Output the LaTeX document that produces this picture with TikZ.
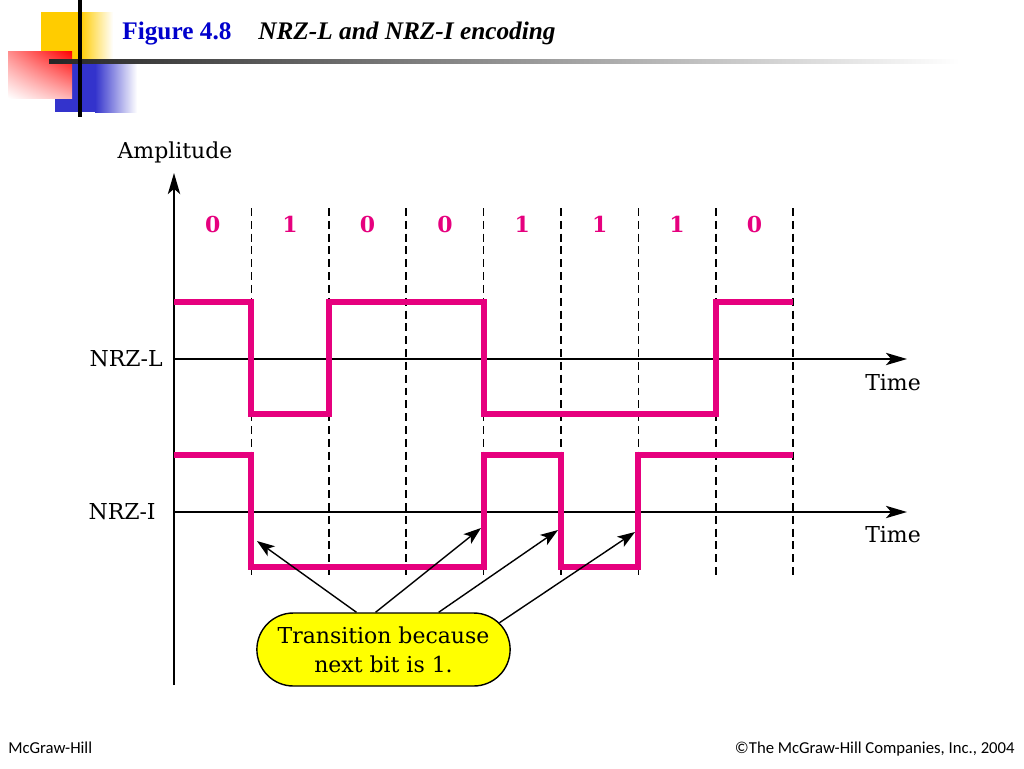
\documentclass[tikz,border=0pt]{standalone}
\usepackage{fontspec}
\setmainfont{DejaVu Serif}
\newfontfamily\titlefont{Liberation Serif}
\newfontfamily\footfont{Carlito}
\definecolor{nrzpink}{RGB}{230, 0, 126}
\definecolor{titleblue}{RGB}{0, 0, 204}
\definecolor{decoyellow}{RGB}{255, 204, 0}
\definecolor{decoblue}{RGB}{51, 51, 204}
\definecolor{noteyellow}{RGB}{255, 255, 0}
\usetikzlibrary{arrows.meta,shapes.misc,shadings}

\begin{document}
\begin{tikzpicture}[x=0.02cm, y=-0.02cm,
    signal/.style={nrzpink, line width=3.4pt},
    axis/.style={line width=1.1pt, -{Stealth[length=12pt,width=7pt,inset=3pt]}},
    bitline/.style={dash pattern=on 4.5pt off 2.8pt, line width=0.9pt},
    pointer/.style={line width=0.8pt, -{Stealth[length=10pt,width=7pt,inset=2.5pt]}},
    lbl/.style={font=\fontsize{12.5}{15}\selectfont},
    bit/.style={font=\fontsize{12.5}{15}\selectfont\bfseries, text=nrzpink},
    callout/.style={rounded rectangle, draw, line width=0.8pt, fill=noteyellow,
        minimum width=5.3cm, minimum height=1.46cm, align=center,
        font=\fontsize{12.5}{16.5}\selectfont}]
    \useasboundingbox (0,0) rectangle (1024,768);

    % Slide decoration
    \fill[decoyellow] (41,12) rectangle (80,60);
    \shade[left color=decoyellow, right color=white] (80,12) rectangle (113,60);
    \fill[decoblue] (55,63) rectangle (95,112);
    \shade[left color=decoblue, right color=white] (95,63) rectangle (137,112);
    \shade[upper left=red!45, upper right=red, lower left=white, lower right=red!30] (8,51) rectangle (72,98);
    \shade[left color=black!85, middle color=gray!55, right color=white] (49,59) rectangle (960,63);
    \draw[line width=2.3pt] (80,0) -- (80,117);

    % Title
    \node[anchor=base west, inner sep=0, text=titleblue,
        font=\titlefont\fontsize{14.4}{17}\selectfont\bfseries] (fignum) at (122,39) {Figure 4.8};
    \node[anchor=base west, inner sep=0,
        font=\titlefont\fontsize{14.4}{17}\selectfont\bfseries\itshape] (figtitle) at (258,39) {NRZ-L and NRZ-I encoding};

    % Axes
    \coordinate (ybottom) at (174,685);
    \coordinate (ytop) at (174,173);
    \coordinate (lstart) at (174,359);
    \coordinate (lend) at (907,359);
    \coordinate (istart) at (174,512);
    \coordinate (iend) at (907,512);
    \draw[axis] (ybottom) -- (ytop);
    \draw[axis] (lstart) -- (lend);
    \draw[axis] (istart) -- (iend);
    \node[lbl, anchor=base] (amp) at (175,158) {Amplitude};
    \node[lbl, anchor=base] (timel) at (893,390) {Time};
    \node[lbl, anchor=base] (timei) at (893,542) {Time};
    \node[lbl, anchor=east, inner sep=0] (nrzl) at (163,359) {NRZ-L};
    \node[lbl, anchor=east, inner sep=0] (nrzi) at (156,512) {NRZ-I};

    % Bit boundaries and bits
    \foreach \i in {1,...,8}
        \draw[bitline] (174+77.4*\i,208) -- (174+77.4*\i,578);
    \foreach \b [count=\i] in {0,1,0,0,1,1,1,0}
        \node[bit] (bit\i) at (174+77.4*\i-38.7,224) {\b};

    % NRZ-L
    \draw[signal] (174,302) -- (251.4,302) -- (251.4,414) -- (328.8,414) -- (328.8,302)
        -- (483.6,302) -- (483.6,414) -- (715.8,414) -- (715.8,302) -- (793.2,302);

    % NRZ-I
    \draw[signal] (174,455) -- (251.4,455) -- (251.4,567) -- (483.6,567) -- (483.6,455)
        -- (561,455) -- (561,567) -- (638.4,567) -- (638.4,455) -- (793.2,455);

    % Callout
    \node[callout] (note) at (383.5,649.5) {Transition because\\next bit is 1.};
    \coordinate (tip1) at (257,541);
    \coordinate (tip2) at (481,528);
    \coordinate (tip3) at (558,530);
    \coordinate (tip4) at (635,532);
    \draw[pointer] (note.126) -- (tip1);
    \draw[pointer] (note.102) -- (tip2);
    \draw[pointer] (note.34) -- (tip3);
    \draw[pointer] (note.13) -- (tip4);

    % Footer
    \node[anchor=base west, inner sep=0, font=\footfont\fontsize{9.5}{11}\selectfont] (pub) at (8,753) {McGraw-Hill};
    \node[anchor=base east, inner sep=0, font=\footfont\fontsize{9.5}{11}\selectfont] (copy) at (1015,753) {\textcopyright The McGraw-Hill Companies, Inc., 2004};
\end{tikzpicture}
\end{document}
